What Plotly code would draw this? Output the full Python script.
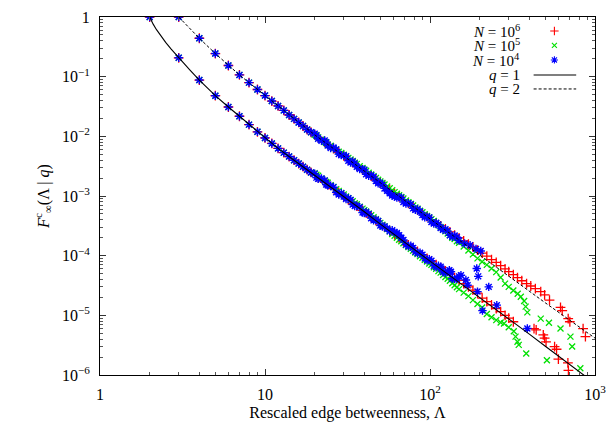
import plotly.graph_objects as go

# ---------------- theoretical curves F^c_inf(Lambda | q) ----------------
lam_q1 = [2, 2.05, 2.1, 2.2, 2.3, 2.4, 2.5, 2.7, 3, 3.5, 4, 5, 6, 7, 8, 10, 12, 15, 20, 25, 30,
          40, 50, 60, 80, 100, 130, 170, 220, 300, 400, 500, 650, 850, 1000]
F_q1 = [1.0, 0.863, 0.759, 0.613, 0.511, 0.434, 0.375, 0.289, 0.207, 0.130, 0.0877, 0.048, 0.031,
        0.0217, 0.0157, 0.0094, 6.28e-3, 3.98e-3, 2.24e-3, 1.43e-3, 9.83e-4, 5.44e-4, 3.38e-4,
        2.31e-4, 1.28e-4, 8.1e-5, 4.77e-5, 2.78e-5, 1.65e-5, 8.72e-6, 4.84e-6, 3.04e-6, 1.76e-6,
        1.01e-6, 7.2e-7]

lam_q2 = [3, 3.5, 4, 5, 6, 7, 8, 10, 12, 15, 20, 25, 30, 40, 50, 60, 80, 100, 130, 170, 220,
          300, 400, 500, 650, 850, 1000]
F_q2 = [1.0, 0.63, 0.44, 0.244, 0.154, 0.107, 0.0794, 0.0482, 0.0323, 0.0196, 0.0106, 6.75e-3,
        4.67e-3, 2.59e-3, 1.64e-3, 1.13e-3, 6.33e-4, 4.05e-4, 2.38e-4, 1.39e-4, 8.26e-5, 4.44e-5,
        2.51e-5, 1.62e-5, 9.66e-6, 5.70e-6, 4.15e-6]

# ---------------- simulations: small Lambda (identical for every N) ----------------
lam_low_q1 = [2, 3, 4, 5, 6, 7, 8, 9, 10, 11, 12, 13, 14, 15, 16, 17, 18, 19]
F_low_q1 = [1.0, 0.207, 0.0877, 0.048, 0.031, 0.0217, 0.0157, 0.0119, 0.0094, 0.0076, 6.28e-3,
            5.33e-3, 4.58e-3, 3.98e-3, 3.50e-3, 3.10e-3, 2.76e-3, 2.48e-3]

lam_low_q2 = [3, 4, 5, 6, 7, 8, 9, 10, 11, 12, 13, 14, 15, 16, 17, 18, 19]
F_low_q2 = [1.0, 0.44, 0.244, 0.154, 0.107, 0.0794, 0.061, 0.0482, 0.039, 0.0323, 0.0272,
            0.0228, 0.0196, 0.0171, 0.0149, 0.013, 0.0117]

# ---------------- simulations: intermediate Lambda ----------------
lam_mid = [20, 21, 23, 24, 26, 28, 30, 32, 34, 36, 39, 41, 44, 47, 50, 53, 57, 61, 65, 69, 74,
           79, 84, 90, 96, 102, 109, 116, 124, 132, 141, 150, 160, 171, 182, 194]
lam_mid_b = [20.5, 22, 23.5, 25, 27, 29, 31, 33, 35, 37.5, 40, 42.5, 45.5, 48.5, 51.5, 55, 59, 63,
             67, 71.5, 76.5, 81.5, 87, 93, 99, 105.5, 112.5, 120, 128, 136.5, 145.5]

# q = 1
F_mid_n6_q1 = [2.25e-3, 2.04e-3, 1.70e-3, 1.56e-3, 1.33e-3, 1.14e-3, 9.9e-4, 8.6e-4, 7.6e-4, 6.8e-4,
               5.75e-4, 5.2e-4, 4.45e-4, 3.88e-4, 3.4e-4, 3.0e-4, 2.6e-4, 2.25e-4, 1.98e-4, 1.75e-4,
               1.52e-4, 1.33e-4, 1.18e-4, 1.03e-4, 9.0e-5, 8.0e-5, 7.1e-5, 6.3e-5, 5.55e-5, 4.9e-5,
               4.3e-5, 3.85e-5, 3.4e-5, 3.0e-5, 2.65e-5, 2.35e-5]
F_mid_n5_q1 = [2.40e-3, 2.18e-3, 1.82e-3, 1.67e-3, 1.42e-3, 1.22e-3, 1.06e-3, 9.2e-4, 8.15e-4, 7.25e-4,
               6.15e-4, 5.5e-4, 4.75e-4, 4.1e-4, 3.55e-4, 3.1e-4, 2.55e-4, 2.15e-4, 1.85e-4, 1.62e-4,
               1.40e-4, 1.21e-4, 1.06e-4, 9.2e-5, 8.0e-5, 7.0e-5, 6.0e-5, 5.2e-5, 4.4e-5, 3.8e-5,
               3.2e-5, 2.75e-5, 2.4e-5, 2.1e-5, 1.8e-5, 1.55e-5]
F_mid_b_n5_q1 = [2.27e-3, 1.97e-3, 1.72e-3, 1.52e-3, 1.30e-3, 1.12e-3, 9.8e-4, 8.6e-4, 7.6e-4, 6.6e-4,
                 5.8e-4, 5.1e-4, 4.4e-4, 3.8e-4, 3.3e-4, 2.8e-4, 2.3e-4, 2.0e-4, 1.74e-4, 1.51e-4,
                 1.30e-4, 1.13e-4, 9.8e-5, 8.5e-5, 7.4e-5, 6.4e-5, 5.5e-5, 4.75e-5, 4.1e-5, 3.45e-5,
                 2.95e-5]
F_mid_n4_q1 = [2.36e-3, 1.94e-3, 1.82e-3, 1.51e-3, 1.40e-3, 1.06e-3, 9.8e-4, 9.2e-4, 7.2e-4, 6.9e-4,
               5.3e-4, 5.4e-4, 4.25e-4, 4.0e-4, 3.2e-4, 3.1e-4, 2.57e-4, 2.45e-4, 2.2e-4, 1.83e-4,
               1.44e-4, 1.35e-4, 1.1e-4, 1.04e-4, 8.4e-5, 8.2e-5, 6.4e-5, 6.5e-5, 5.1e-5, 5.3e-5,
               4.05e-5, 4.5e-5]
F_mid_b_n4_q1 = [2.03e-3, 1.97e-3, 1.56e-3, 1.49e-3, 1.15e-3, 1.11e-3, 8.9e-4, 8.6e-4, 6.8e-4, 6.5e-4,
                 5.2e-4, 5.0e-4, 3.9e-4, 3.8e-4, 3.07e-4, 2.85e-4, 2.68e-4, 2.4e-4, 1.99e-4, 1.53e-4,
                 1.47e-4, 1.16e-4, 1.12e-4, 9.0e-5, 8.7e-5, 6.8e-5, 6.8e-5, 5.3e-5, 5.4e-5, 4.1e-5,
                 4.1e-5]

# q = 2
F_mid_n6_q2 = [1.06e-2, 9.6e-3, 8.0e-3, 7.35e-3, 6.25e-3, 5.4e-3, 4.7e-3, 4.1e-3, 3.63e-3, 3.23e-3,
               2.75e-3, 2.48e-3, 2.15e-3, 1.88e-3, 1.65e-3, 1.47e-3, 1.27e-3, 1.10e-3, 9.7e-4, 8.6e-4,
               7.5e-4, 6.6e-4, 5.85e-4, 5.1e-4, 4.5e-4, 4.0e-4, 3.55e-4, 3.15e-4, 2.8e-4, 2.5e-4,
               2.2e-4, 1.98e-4, 1.76e-4, 1.56e-4, 1.4e-4, 1.24e-4]
F_mid_n5_q2 = [1.06e-2, 9.6e-3, 8.0e-3, 7.3e-3, 6.3e-3, 5.5e-3, 4.9e-3, 4.35e-3, 3.85e-3, 3.45e-3,
               2.95e-3, 2.65e-3, 2.3e-3, 2.0e-3, 1.76e-3, 1.56e-3, 1.35e-3, 1.16e-3, 1.03e-3, 9.1e-4,
               7.9e-4, 6.95e-4, 6.15e-4, 5.35e-4, 4.65e-4, 4.1e-4, 3.5e-4, 3.0e-4, 2.55e-4, 2.2e-4,
               1.9e-4, 1.65e-4, 1.42e-4, 1.22e-4, 1.05e-4, 9.0e-5]
F_mid_b_n5_q2 = [1.02e-2, 8.9e-3, 7.8e-3, 6.95e-3, 6.0e-3, 5.25e-3, 4.62e-3, 4.08e-3, 3.62e-3, 3.15e-3,
                 2.77e-3, 2.45e-3, 2.14e-3, 1.87e-3, 1.65e-3, 1.44e-3, 1.25e-3, 1.09e-3, 9.6e-4, 8.4e-4,
                 7.35e-4, 6.45e-4, 5.65e-4, 4.95e-4, 4.35e-4, 3.8e-4, 3.25e-4, 2.75e-4, 2.35e-4, 2.0e-4,
                 1.75e-4]
F_mid_n4_q2 = [1.11e-2, 9.1e-3, 8.5e-3, 7.0e-3, 6.5e-3, 5.05e-3, 4.75e-3, 3.9e-3, 3.8e-3, 3.1e-3,
               2.82e-3, 2.32e-3, 2.23e-3, 1.78e-3, 1.67e-3, 1.34e-3, 1.11e-3, 9.8e-4, 9.6e-4, 7.9e-4,
               7.6e-4, 6.2e-4, 6.0e-4, 4.8e-4, 4.5e-4, 3.65e-4, 3.55e-4, 2.9e-4, 2.78e-4, 2.2e-4,
               2.18e-4, 1.79e-4]
F_mid_b_n4_q2 = [1.04e-2, 8.4e-3, 8.0e-3, 6.35e-3, 6.0e-3, 4.85e-3, 4.63e-3, 3.65e-3, 3.5e-3, 2.84e-3,
                 2.73e-3, 2.19e-3, 2.08e-3, 1.63e-3, 1.54e-3, 1.22e-3, 1.02e-3, 9.4e-4, 9.4e-4, 7.5e-4,
                 7.25e-4, 5.85e-4, 5.5e-4, 4.4e-4, 4.38e-4, 3.45e-4, 3.32e-4, 2.72e-4, 2.58e-4, 2.07e-4,
                 2.03e-4]

# ---------------- simulations: tails ----------------
lam_tail_n6_q1 = [207, 221, 236, 252, 268, 285, 300, 320, 427, 440, 486, 495, 505, 569, 585, 600, 685, 690]
F_tail_n6_q1 = [1.95e-5, 1.7e-5, 1.5e-5, 1.3e-5, 1.15e-5, 1.0e-5, 9.0e-6, 7.8e-6, 6.0e-6, 5.7e-6,
                4.7e-6, 4.15e-6, 3.6e-6, 3.0e-6, 2.7e-6, 1.85e-6, 1.6e-6, 1.2e-6]
lam_tail_n5_q1 = [207, 221, 236, 252, 268, 281, 300, 322, 330, 339, 345, 383, 511, 815]
F_tail_n5_q1 = [1.35e-5, 1.05e-5, 9.3e-6, 8.3e-6, 7.6e-6, 7.3e-6, 6.3e-6, 5.4e-6, 4.4e-6, 3.6e-6,
                3.2e-6, 2.3e-6, 1.77e-6, 1.3e-6]
lam_tail_n4_q1 = [117, 131, 134, 154, 165, 169, 192, 196, 227, 194, 208, 254, 389]
F_tail_n4_q1 = [6.1e-5, 5.7e-5, 5.4e-5, 4.7e-5, 3.9e-5, 3.2e-5, 6.1e-5, 4.5e-5, 3.0e-5, 2.5e-5,
                1.2e-5, 1.48e-5, 6.0e-6]

lam_tail_n6_q2 = [207, 221, 236, 252, 268, 285, 300, 320, 339, 360, 385, 408, 435, 469, 495, 530,
                  618, 633, 688, 704, 847, 875]
F_tail_n6_q2 = [1.1e-4, 9.8e-5, 8.6e-5, 7.7e-5, 6.8e-5, 6.0e-5, 5.4e-5, 4.8e-5, 4.3e-5, 3.8e-5,
                3.4e-5, 3.1e-5, 2.8e-5, 2.5e-5, 2.2e-5, 1.8e-5, 1.36e-5, 1.2e-5, 8.8e-6, 7.8e-6,
                6.0e-6, 4.4e-6]
lam_tail_n5_q2 = [207, 221, 236, 252, 268, 285, 300, 320, 340, 355, 372, 380, 389, 469, 526, 618, 710, 727]
F_tail_n5_q2 = [7.9e-5, 7.0e-5, 6.1e-5, 5.3e-5, 4.3e-5, 3.4e-5, 3.0e-5, 2.6e-5, 2.3e-5, 2.05e-5,
                1.74e-5, 1.4e-5, 1.12e-5, 8.8e-6, 7.5e-6, 6.0e-6, 4.4e-6, 3.0e-6]
lam_tail_n4_q2 = [162, 175, 190, 203]
F_tail_n4_q2 = [1.6e-4, 1.5e-4, 1.3e-4, 1.2e-4]

# ---------------- assemble the series ----------------
series = {
    "n6": dict(color="#ff0000", symbol="cross-thin", size=7, width=1.3,
               x=[lam_low_q1 + lam_mid + lam_tail_n6_q1,
                  lam_low_q2 + lam_mid + lam_tail_n6_q2],
               y=[F_low_q1 + F_mid_n6_q1 + F_tail_n6_q1,
                  F_low_q2 + F_mid_n6_q2 + F_tail_n6_q2]),
    "n5": dict(color="#00e000", symbol="x-thin", size=6, width=1.3,
               x=[lam_low_q1 + lam_mid + lam_mid_b + lam_tail_n5_q1,
                  lam_low_q2 + lam_mid + lam_mid_b + lam_tail_n5_q2],
               y=[F_low_q1 + F_mid_n5_q1 + F_mid_b_n5_q1 + F_tail_n5_q1,
                  F_low_q2 + F_mid_n5_q2 + F_mid_b_n5_q2 + F_tail_n5_q2]),
    "n4": dict(color="#0000ff", symbol="asterisk", size=7, width=1.4,
               x=[lam_low_q1 + lam_mid[:32] + lam_mid_b + lam_tail_n4_q1,
                  lam_low_q2 + lam_mid[:32] + lam_mid_b + lam_tail_n4_q2],
               y=[F_low_q1 + F_mid_n4_q1 + F_mid_b_n4_q1 + F_tail_n4_q1,
                  F_low_q2 + F_mid_n4_q2 + F_mid_b_n4_q2 + F_tail_n4_q2]),
}

FONT = "Liberation Serif"
fig = go.Figure()

for key in ["n6", "n5", "n4"]:
    s = series[key]
    for xs, ys in zip(s["x"], s["y"]):
        fig.add_trace(go.Scatter(
            x=xs, y=ys, mode="markers", hoverinfo="skip",
            marker=dict(symbol=s["symbol"], size=s["size"], color=s["color"],
                        line=dict(color=s["color"], width=s["width"])),
        ))

fig.add_trace(go.Scatter(x=lam_q1, y=F_q1, mode="lines",
                         line=dict(color="black", width=1.1)))
fig.add_trace(go.Scatter(x=lam_q2, y=F_q2, mode="lines",
                         line=dict(color="black", width=1.0, dash="3px,2px")))

# ---------------- key (top right, text right-aligned with sample on the right) ----------------
key_labels = ["<i>N</i> = 10<sup>6</sup>", "<i>N</i> = 10<sup>5</sup>", "<i>N</i> = 10<sup>4</sup>",
              "<i>q</i> = 1", "<i>q</i> = 2"]
key_rows = [0.961, 0.921, 0.880, 0.838, 0.799]
for lab, yy in zip(key_labels, key_rows):
    fig.add_annotation(text=lab, xref="paper", yref="paper", x=0.853, y=yy,
                       xanchor="right", yanchor="middle", showarrow=False,
                       font=dict(family=FONT, size=15, color="black"))
for key, yy in zip(["n6", "n5", "n4"], key_rows[:3]):
    s = series[key]
    fig.add_trace(go.Scatter(
        x=[0.918], y=[yy], xaxis="x2", yaxis="y2", mode="markers", hoverinfo="skip",
        marker=dict(symbol=s["symbol"], size=s["size"] - 1, color=s["color"],
                    line=dict(color=s["color"], width=1.1)),
    ))
fig.add_shape(type="line", xref="paper", yref="paper", x0=0.876, x1=0.962,
              y0=key_rows[3], y1=key_rows[3], line=dict(color="black", width=1.1))
fig.add_shape(type="line", xref="paper", yref="paper", x0=0.876, x1=0.962,
              y0=key_rows[4], y1=key_rows[4], line=dict(color="black", width=1.0, dash="3px,2px"))

# ---------------- axes ----------------
minor_x = [m * 10 ** e for e in range(0, 3) for m in range(2, 10)]
minor_y = [m * 10.0 ** e for e in range(-6, 0) for m in range(2, 10)]

axis_common = dict(showline=True, linecolor="black", linewidth=1, mirror="ticks",
                   ticks="inside", ticklen=6, tickcolor="#333333", tickwidth=1,
                   showgrid=False, zeroline=False,
                   tickfont=dict(family=FONT, size=16, color="black"))

fig.update_layout(
    width=615, height=427,
    margin=dict(l=100, r=17, t=9, b=49),
    plot_bgcolor="white", paper_bgcolor="white",
    showlegend=False,
    font=dict(family=FONT, size=16, color="black"),
    xaxis=dict(type="log", range=[0, 3],
               tickvals=[1, 10, 100, 1000],
               ticktext=["1", "10", "10<sup>2</sup>", "10<sup>3</sup>"],
               minor=dict(ticks="inside", ticklen=3, tickcolor="#555555", tickvals=minor_x),
               ticklabelstandoff=5,
               title=dict(text="Rescaled edge betweenness, Λ", standoff=4,
                          font=dict(family=FONT, size=16)),
               **axis_common),
    yaxis=dict(type="log", range=[-6, 0],
               tickvals=[1e-6, 1e-5, 1e-4, 1e-3, 1e-2, 1e-1, 1],
               ticktext=["10<sup>−6</sup>", "10<sup>−5</sup>", "10<sup>−4</sup>", "10<sup>−3</sup>",
                         "10<sup>−2</sup>", "10<sup>−1</sup>", "1"],
               minor=dict(ticks="inside", ticklen=3, tickcolor="#555555", tickvals=minor_y),
               ticklabelstandoff=6,
               title=dict(text="<i>F</i><sup>c</sup><sub>∞</sub>(Λ | <i>q</i>)", standoff=8,
                          font=dict(family=FONT, size=16)),
               **axis_common),
    xaxis2=dict(overlaying="x", range=[0, 1], visible=False),
    yaxis2=dict(overlaying="y", range=[0, 1], visible=False),
)

fig.write_html("out.html")
